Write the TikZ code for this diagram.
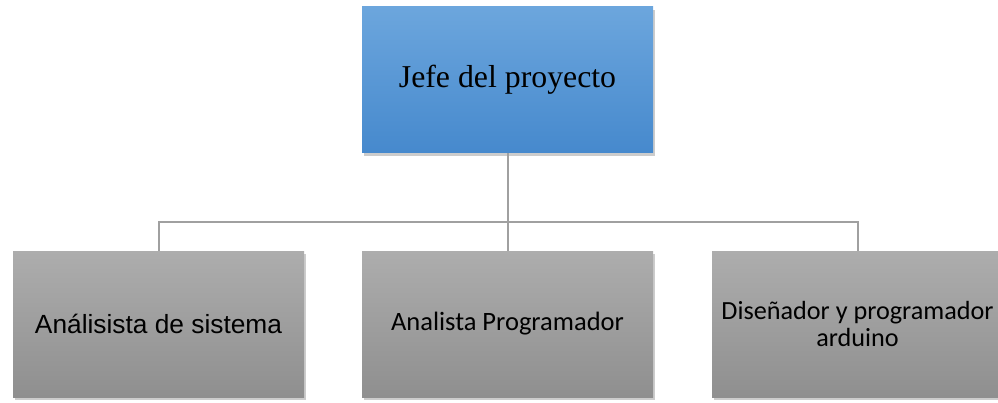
\documentclass[tikz,border=0pt]{standalone}
\usepackage{fontspec}
\usepackage{xcolor}
\usetikzlibrary{positioning,calc,shadows}
\newfontfamily\jfont{Liberation Serif}
\newfontfamily\afont{Liberation Sans}
\newfontfamily\cfont{Carlito}
\definecolor{jefetop}{RGB}{108,166,221}
\definecolor{jefebot}{RGB}{70,137,205}
\definecolor{grtop}{RGB}{173,173,173}
\definecolor{grbot}{RGB}{143,143,143}
\definecolor{linegray}{RGB}{160,160,160}

\begin{document}
\begin{tikzpicture}[x=1pt, y=1pt,
    box/.style={minimum width=291pt, minimum height=146pt, inner sep=0pt,
        align=center, text=black,
        drop shadow={shadow xshift=2pt, shadow yshift=-3pt, opacity=0.4}},
    jefebox/.style={box, top color=jefetop, bottom color=jefebot},
    puesto/.style={box, top color=grtop, bottom color=grbot},
    conn/.style={draw=linegray, line width=2pt}]
        % Frame
        \useasboundingbox (0,0) rectangle (998,402);

        % Boxes
        \node[jefebox, font=\jfont\fontsize{31.8}{38}\selectfont] (jefe) at (507.5,322) {Jefe del proyecto};
        \node[puesto, font=\afont\fontsize{26.3}{31}\selectfont] (analista) at (158.5,78) {Análisista de sistema};
        \node[puesto, font=\cfont\fontsize{26.5}{31}\selectfont] (programador) at (507.5,78) {Analista Programador};
        \node[puesto, font=\cfont\fontsize{26.2}{27}\selectfont] (disenador) at (857.5,78) {Diseñador y programador\\arduino};

        % Connectors
        \coordinate (bus) at (507.5,180);
        \draw[conn] (jefe.south) -- (bus) -- (programador.north);
        \draw[conn] (bus) -| (analista.north);
        \draw[conn] (bus) -| (disenador.north);
    \end{tikzpicture}
\end{document}
